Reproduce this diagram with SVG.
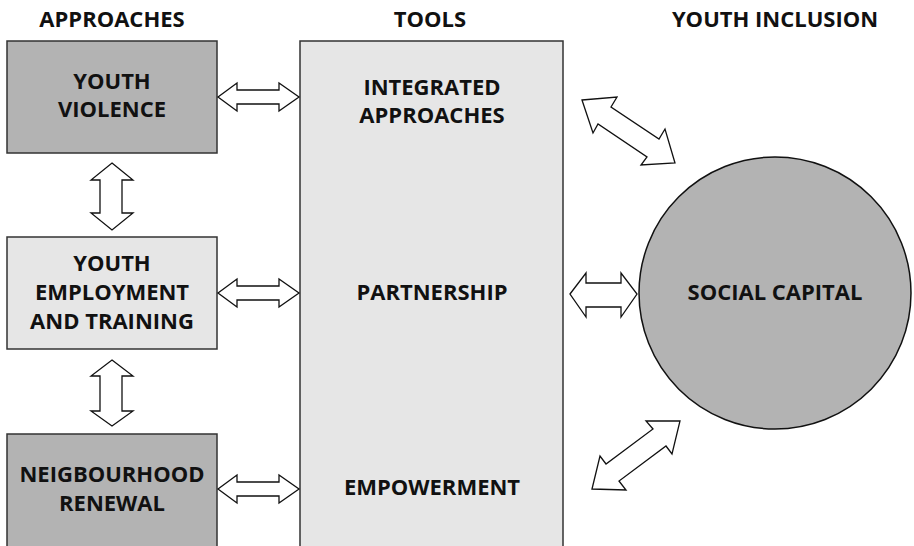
<svg xmlns="http://www.w3.org/2000/svg" width="914" height="546" viewBox="0 0 914 546">
  <style>
    .lbl { font-family: "Open Sans", "Noto Sans", sans-serif; font-weight: 700; font-size: 22px; fill: #111; text-anchor: middle; }
    .dark { fill: #b3b3b3; stroke: #333; stroke-width: 1.5; }
    .light { fill: #e6e6e6; stroke: #333; stroke-width: 1.5; }
    .arrow { fill: #fff; stroke: #111; stroke-width: 1.3; stroke-linejoin: miter; }
  </style>
  <rect width="914" height="546" fill="#fff"/>

  <!-- column headings -->
  <g id="headings">
    <text class="lbl" x="112" y="27">APPROACHES</text>
    <text class="lbl" x="430" y="27">TOOLS</text>
    <text class="lbl" x="775" y="27">YOUTH INCLUSION</text>
  </g>

  <g id="tools">
    <rect class="light" x="300" y="41" width="263" height="506"/>
    <text class="lbl" x="432" y="95">INTEGRATED</text>
    <text class="lbl" x="432" y="123">APPROACHES</text>
    <text class="lbl" x="432" y="300">PARTNERSHIP</text>
    <text class="lbl" x="432" y="495">EMPOWERMENT</text>
  </g>

  <g id="youth-violence">
    <rect class="dark" x="7" y="41" width="210" height="112"/>
    <text class="lbl" x="112" y="89">YOUTH</text>
    <text class="lbl" x="112" y="117">VIOLENCE</text>
  </g>

  <g id="youth-employment">
    <rect class="light" x="7" y="237" width="210" height="112"/>
    <text class="lbl" x="112" y="271">YOUTH</text>
    <text class="lbl" x="112" y="300">EMPLOYMENT</text>
    <text class="lbl" x="112" y="329">AND TRAINING</text>
  </g>

  <g id="neighbourhood-renewal">
    <rect class="dark" x="7" y="434" width="210" height="113"/>
    <text class="lbl" x="112" y="482">NEIGBOURHOOD</text>
    <text class="lbl" x="112" y="511">RENEWAL</text>
  </g>

  <g id="social-capital">
    <circle cx="775" cy="293" r="136" fill="#b3b3b3" stroke="#111" stroke-width="1.5"/>
    <text class="lbl" x="775" y="300">SOCIAL CAPITAL</text>
  </g>

  <!-- block double arrows -->
  <g id="connectors">
    <!-- approaches to tools -->
    <polygon class="arrow" points="218,97 237,83 237,90 279,90 279,83 299,97 279,111 279,104 237,104 237,111"/>
    <polygon class="arrow" points="218,293 237,279 237,286 279,286 279,279 299,293 279,307 279,300 237,300 237,307"/>
    <polygon class="arrow" points="218,489 237,475 237,482 279,482 279,475 299,489 279,503 279,496 237,496 237,503"/>
    <!-- between approaches -->
    <polygon class="arrow" points="112,163 133,180 122,180 122,213 133,213 112,230 91,213 100,213 100,180 91,180"/>
    <polygon class="arrow" points="112,360 133,376 122,376 122,411 133,411 112,426 91,411 100,411 100,376 91,376"/>
    <!-- tools to social capital -->
    <polygon class="arrow" points="570,294 586,273 586,283 621,283 621,273 637,294 621,317 621,307 586,307 586,317"/>
    <polygon class="arrow" points="582,100 617,97 611,107 659,139 665,129 675,163 641,165 647,157 598,124 593,133"/>
    <polygon class="arrow" points="592,489 600,456 606,464 653,429 646,421 680,421 672,454 666,446 619,481 626,490"/>
  </g>
</svg>
